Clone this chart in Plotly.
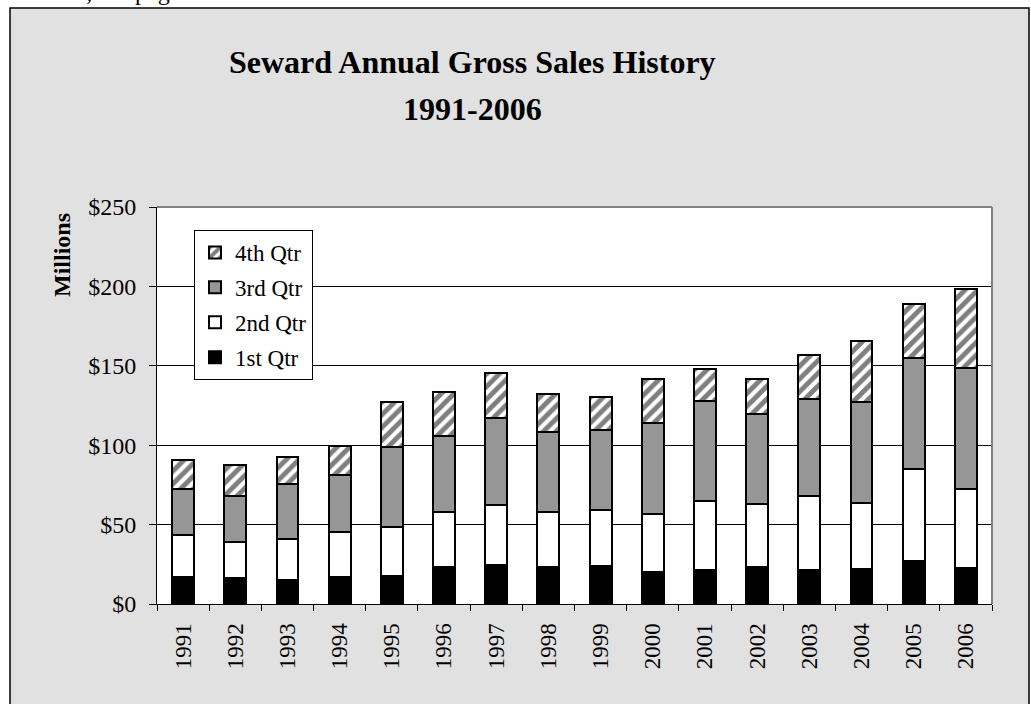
import plotly.graph_objects as go

years = [str(y) for y in range(1991, 2007)]
q1 = [16.8, 16.4, 14.9, 17.2, 17.8, 23.5, 24.3, 23.5, 23.9, 19.9, 21.2, 23.5, 21.6, 22.0, 26.9, 22.5]
q2 = [26.4, 22.6, 26.2, 28.1, 30.7, 34.4, 38.3, 34.4, 35.5, 36.8, 43.5, 39.5, 46.2, 41.6, 58.1, 50.1]
q3 = [29.2, 29.2, 34.7, 35.7, 50.2, 47.7, 54.5, 50.4, 50.4, 57.3, 62.9, 56.6, 61.3, 63.8, 69.7, 76.0]
q4 = [18.1, 19.5, 16.8, 18.7, 28.7, 28.1, 28.4, 23.9, 20.3, 27.9, 20.4, 22.3, 27.9, 38.4, 34.4, 49.8]
series_names = ["1st Qtr", "2nd Qtr", "3rd Qtr", "4th Qtr"]
y_ticks = [0, 50, 100, 150, 200, 250]

FONT = "Liberation Serif, Times New Roman, serif"
W, H = 1031, 704
L, T = 157, 207
PW, PH = 835, 397
R, B = W - L - PW, H - T - PH


def px_x(px):
    return (px - L) / PW


def px_y(py):
    return (H - B - py) / PH


fig = go.Figure()
styles = [
    dict(color="black"),
    dict(color="white"),
    dict(color="#969696"),
    dict(color="white", pattern=dict(shape="/", fgcolor="black", bgcolor="white", size=9, solidity=0.55)),
]
for i, (name, vals) in enumerate(zip(series_names, [q1, q2, q3, q4])):
    fig.add_trace(go.Bar(
        x=years, y=vals, name=name, legendgroup=name, legendrank=10 - i,
        marker=dict(line=dict(color="black", width=2), **styles[i]),
    ))

fig.update_layout(
    width=W, height=H,
    barmode="stack", bargap=0.58,
    paper_bgcolor="white", plot_bgcolor="white",
    margin=dict(l=L, r=R, t=T, b=B, autoexpand=False),
    font=dict(family=FONT, color="black", size=23),
    showlegend=True,
    legend=dict(
        x=px_x(194), y=px_y(230), xanchor="left", yanchor="top",
        bgcolor="white", bordercolor="black", borderwidth=1,
        font=dict(family=FONT, size=23, color="black"),
        traceorder="grouped", tracegroupgap=2, itemwidth=30,
    ),
    xaxis=dict(
        type="category", tickson="boundaries", ticks="outside", ticklen=6,
        tickcolor="black", showline=True, linecolor="black", linewidth=1,
        tickangle=-90, showgrid=False, ticklabelstandoff=9,
        tickfont=dict(family=FONT, size=23, color="black"),
    ),
    yaxis=dict(
        range=[0, 250], tickvals=y_ticks, ticktext=["$" + str(v) for v in y_ticks],
        ticks="outside", ticklen=7, tickcolor="black",
        showline=True, linecolor="black", linewidth=1,
        showgrid=True, gridcolor="black", gridwidth=1, zeroline=False,
        ticklabelstandoff=8,
        tickfont=dict(family=FONT, size=24, color="black"),
    ),
    shapes=[
        dict(type="rect", xref="paper", yref="paper", x0=px_x(10), x1=px_x(1029), y0=px_y(720), y1=px_y(8),
             fillcolor="#e1e1e1", line=dict(color="black", width=1.5), layer="below"),
        dict(type="rect", xref="paper", yref="paper", x0=0, x1=1, y0=0, y1=1,
             fillcolor="white", line=dict(width=0), layer="below"),
        dict(type="line", xref="paper", yref="paper", x0=0, x1=1, y0=1, y1=1,
             line=dict(color="#808080", width=2), layer="above"),
        dict(type="line", xref="paper", yref="paper", x0=1, x1=1, y0=0, y1=1,
             line=dict(color="#808080", width=2), layer="above"),
    ],
    annotations=[
        dict(text="<b>Seward Annual Gross Sales History</b>", xref="paper", yref="paper",
             x=px_x(472), y=px_y(62), xanchor="center", yanchor="middle", showarrow=False,
             font=dict(family=FONT, size=32, color="black")),
        dict(text="<b>1991-2006</b>", xref="paper", yref="paper",
             x=px_x(472), y=px_y(109), xanchor="center", yanchor="middle", showarrow=False,
             font=dict(family=FONT, size=32, color="black")),
        dict(text="<b>Millions</b>", xref="paper", yref="paper", textangle=-90,
             x=px_x(62), y=px_y(255), xanchor="center", yanchor="middle", showarrow=False,
             font=dict(family=FONT, size=24, color="black")),
        dict(text="business, see page 15", xref="paper", yref="paper",
             x=px_x(212), y=px_y(-8), xanchor="right", yanchor="middle", showarrow=False,
             font=dict(family=FONT, size=24, color="black")),
    ],
)

fig.write_html(
    "out.html",
    config={"displayModeBar": False},
    post_script="document.body.style.margin='0';document.body.style.overflow='hidden';",
)
